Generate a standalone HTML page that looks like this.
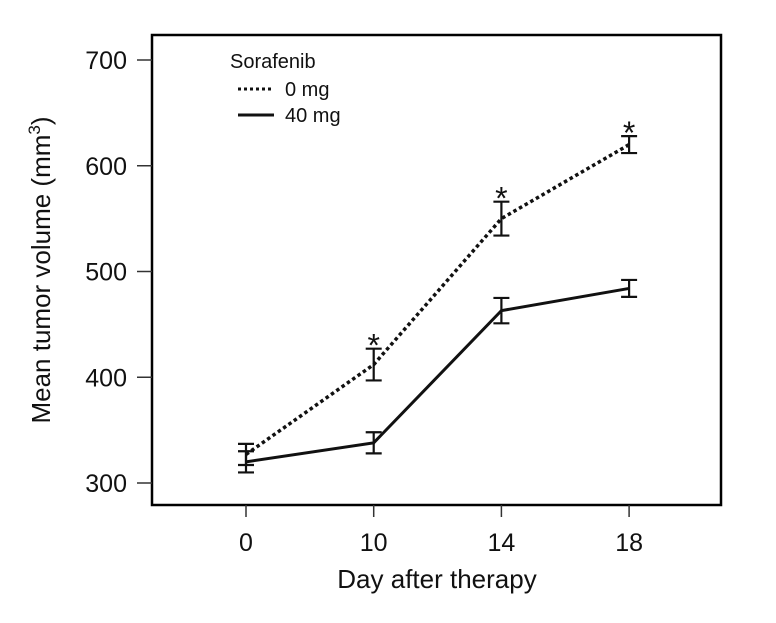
<!DOCTYPE html>
<html><head><meta charset="utf-8"><style>
body{margin:0;background:#fff;}
svg text{font-family:"Liberation Sans",Arial,sans-serif;fill:#111;}
</style></head><body>
<svg width="776" height="618" viewBox="0 0 776 618">
<g id="plot"></g>
</svg>
<script>
const categories=["0","10","14","18"];
const dose0=[327,412,550,620];
const dose0Err=[10,15,16,8];
const dose40=[320,338,463,484];
const dose40Err=[10,10,12,8];
const yTicks=[300,400,500,600,700];
const sig=[false,true,true,true];

const NS="http://www.w3.org/2000/svg";
const g=document.getElementById('plot');
const L=152,T=35,R=721,B=505;
function x(i){return 246+i*127.7;}
function y(v){return 483-(v-300)*1.0575;}
function mk(t,a,parent){const e=document.createElementNS(NS,t);for(const k in a)e.setAttribute(k,a[k]);(parent||g).appendChild(e);return e;}

const frame=mk('rect',{x:L,y:T,width:R-L,height:B-T,fill:'none',stroke:'#000','stroke-width':2.5});



yTicks.forEach(v=>{
  const tk=mk('line',{x1:137,x2:L,y1:y(v),y2:y(v),stroke:'#333','stroke-width':1.5});
  
  
  const t=mk('text',{x:127,y:y(v)+9,'text-anchor':'end','font-size':25});
  t.textContent=v;
  
  
});
categories.forEach((c,i)=>{
  const tk=mk('line',{x1:x(i),x2:x(i),y1:B,y2:B+12,stroke:'#333','stroke-width':1.5});
  
  
  const t=mk('text',{x:x(i),y:B+46,'text-anchor':'middle','font-size':25});
  t.textContent=c;
  
  
});

function series(vals,errs,dash,name){
  const p=mk('polyline',{points:vals.map((v,i)=>x(i)+','+y(v)).join(' '),fill:'none',stroke:'#111','stroke-width':dash?3.5:3,'stroke-dasharray':dash?'3.5 3':'none'});
  
  
  vals.forEach((v,i)=>{
    const e=mk('path',{d:`M${x(i)-8},${y(v+errs[i])}h16M${x(i)},${y(v+errs[i])}V${y(v-errs[i])}M${x(i)-8},${y(v-errs[i])}h16`,stroke:'#111','stroke-width':2.2,fill:'none'});
    
    
  });
}
series(dose0,dose0Err,true,'dose-0mg');
series(dose40,dose40Err,false,'dose-40mg');
dose0.forEach((v,i)=>{
  if(!sig[i])return;
  const s=mk('text',{x:x(i),y:y(v+dose0Err[i])+8,'text-anchor':'middle','font-size':32});
  s.textContent='*';
  
  
});

const lg=mk('g',{});


const lt=mk('text',{x:230,y:68,'font-size':20},lg);lt.textContent='Sorafenib';
mk('line',{x1:238,x2:274,y1:89,y2:89,stroke:'#111','stroke-width':3,'stroke-dasharray':'3 3'},lg);
const l1=mk('text',{x:285,y:96,'font-size':20},lg);l1.textContent='0 mg';
mk('line',{x1:238,x2:274,y1:115,y2:115,stroke:'#111','stroke-width':3},lg);
const l2=mk('text',{x:285,y:122,'font-size':20},lg);l2.textContent='40 mg';

const xt=mk('text',{x:437,y:588,'text-anchor':'middle','font-size':26});
xt.textContent='Day after therapy';


const yt=mk('text',{transform:'translate(50,270) rotate(-90)','text-anchor':'middle','font-size':26});
yt.innerHTML='Mean tumor volume (mm<tspan dy="-10" font-size="17">3</tspan><tspan dy="10">)</tspan>';


</script>
</body></html>
